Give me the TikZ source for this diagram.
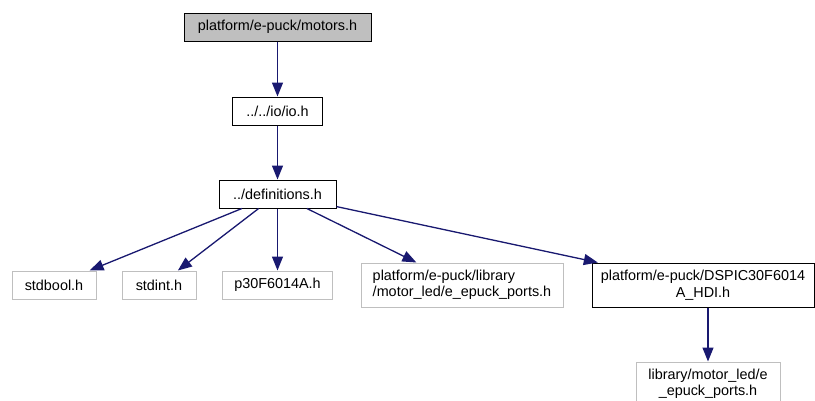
\documentclass[tikz,border=0pt]{standalone}
\usepackage{fontspec}
\setmainfont{Liberation Sans}
\usetikzlibrary{arrows.meta,positioning}
\definecolor{edgeblue}{HTML}{191970}
\definecolor{boxgray}{HTML}{BFBFBF}

\begin{document}
\begin{tikzpicture}[x=1pt,y=-1pt,font=\fontsize{14.4}{16.5}\selectfont,
  file/.style={draw,line width=1pt,inner sep=2pt,minimum height=28pt,align=center},
  ext/.style={file,draw=boxgray},
  root/.style={file,fill=boxgray},
  dep/.style={-{Triangle[length=14pt,width=11pt]},draw=edgeblue,fill=edgeblue,line width=1.3pt}]
\useasboundingbox (0,0) rectangle (815,400);
\node[root,minimum width=187pt] (motors) at (277.5,27) {platform/e-puck/motors.h};
\node[file,minimum width=90pt] (io) at (277.5,111) {../../io/io.h};
\node[file,minimum width=117pt] (defs) at (277.5,194) {../definitions.h};
\node[ext,minimum width=84pt] (stdbool) at (54,285) {stdbool.h};
\node[ext,minimum width=74pt] (stdint) at (159,285) {stdint.h};
\node[ext,minimum width=110pt] (p30) at (277.5,285) {p30F6014A.h};
\node[ext,minimum width=202pt,minimum height=44pt,align=left] (ports) at (462,285) {platform/e-puck/library\\/motor\_led/e\_epuck\_ports.h};
\node[file,minimum width=222pt,minimum height=44pt] (dspic) at (703,285) {platform/e-puck/DSPIC30F6014\\A\_HDI.h};
\node[ext,minimum width=144pt,minimum height=44pt] (libports) at (708,384) {library/motor\_led/e\\\_epuck\_ports.h};
\draw[dep] (motors)--(io);
\draw[dep] (io)--(defs);
\draw[dep] (defs)--(stdbool);
\draw[dep] (defs)--(stdint);
\draw[dep] (defs)--(p30);
\draw[dep] (defs)--(ports);
\draw[dep] (defs)--(dspic);
\draw[dep] (libports |- dspic.south)--(libports);
\end{tikzpicture}
\end{document}
